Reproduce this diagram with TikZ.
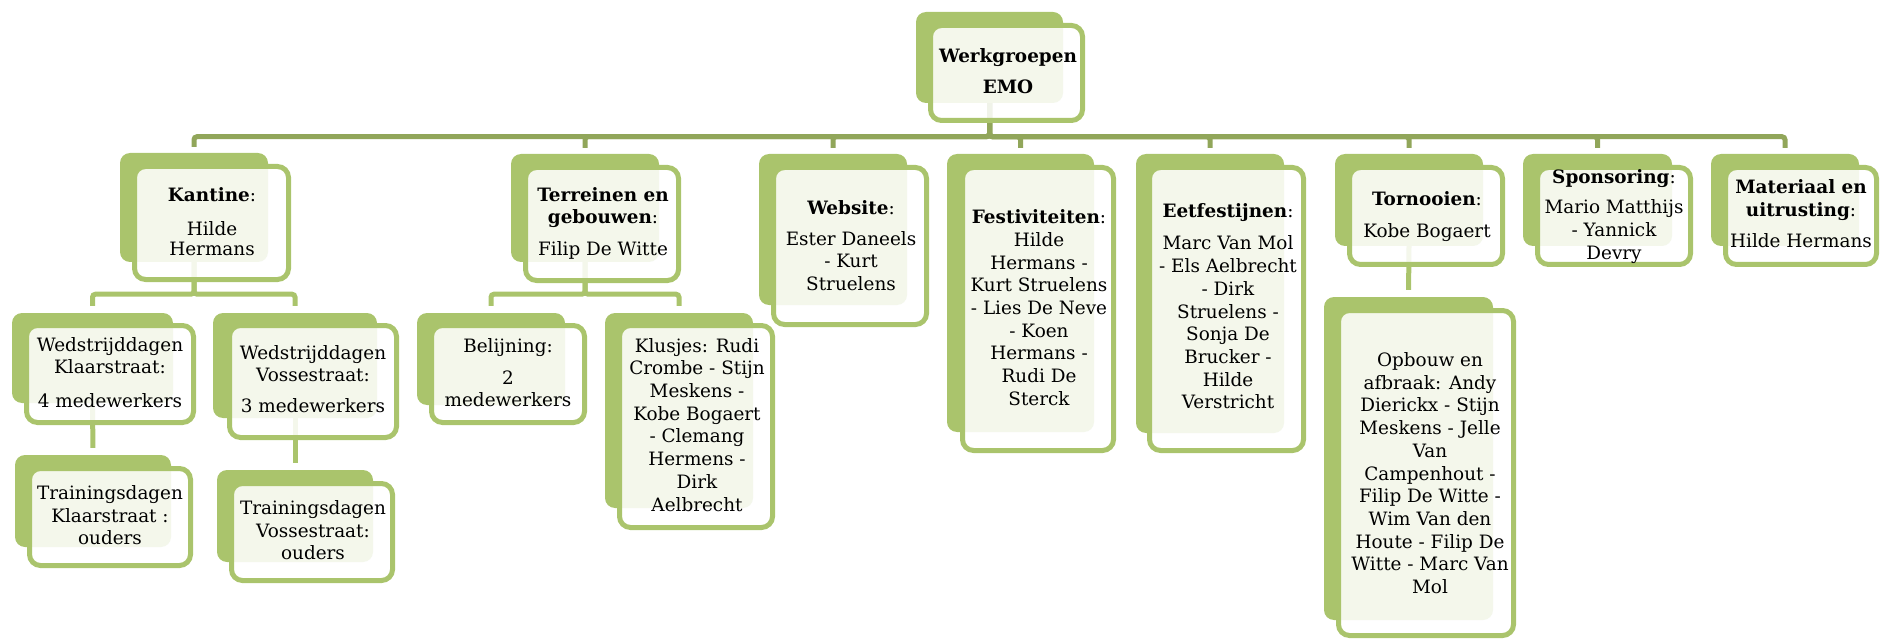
\documentclass[tikz,border=0pt]{standalone}
\usepackage{fontspec}
\setmainfont{DejaVu Serif}
\usetikzlibrary{fit,backgrounds}
\definecolor{grn}{RGB}{170,196,108}
\definecolor{olv}{RGB}{145,166,90}
\newcommand\sT{\rule[-6.8pt]{0pt}{22.7pt}}
\begin{document}
\begin{tikzpicture}[x=1pt,y=-1pt,
  backbox/.style={fill=grn,draw=none,rounded corners=10pt,inner sep=0pt},
  frontbox/.style={draw=grn,line width=5pt,fill=white,fill opacity=0.87,rounded corners=11pt,inner sep=0pt},
  txt/.style={align=center,inner sep=0pt,text=black,font=\fontsize{18.4pt}{22.7pt}\selectfont},
  tight/.style={font=\fontsize{18.4pt}{20.4pt}\selectfont},
  mid/.style={font=\fontsize{18.4pt}{22pt}\selectfont},
  connA/.style={draw=olv,line width=5pt,rounded corners=3pt,shorten >=6pt},
  connB/.style={draw=grn,line width=5pt,rounded corners=3pt,shorten >=7pt}]
\useasboundingbox (0,0) rectangle (1880,639);

% back shapes
\node[backbox,fit={(916,12) (1063,103)}] (rootB) {};
\node[backbox,fit={(120,153) (268,262)}] (kanB) {};
\node[backbox,fit={(12,313) (173,403)}] (wkB) {};
\node[backbox,fit={(15,455) (171,547)}] (tkB) {};
\node[backbox,fit={(213,313) (377,418)}] (wvB) {};
\node[backbox,fit={(217,470) (373,562)}] (tvB) {};
\node[backbox,fit={(511,154) (659,262)}] (terB) {};
\node[backbox,fit={(417,313) (565,405)}] (belB) {};
\node[backbox,fit={(605,313) (753,508)}] (kluB) {};
\node[backbox,fit={(759,154) (907,305)}] (webB) {};
\node[backbox,fit={(947,154) (1094,432)}] (fesB) {};
\node[backbox,fit={(1136,154) (1284,433)}] (eetB) {};
\node[backbox,fit={(1335,154) (1483,246)}] (torB) {};
\node[backbox,fit={(1324,297) (1493,620)}] (opbB) {};
\node[backbox,fit={(1523,154) (1672,246)}] (spoB) {};
\node[backbox,fit={(1711,154) (1859,246)}] (matB) {};

% front frames
\node[frontbox,fit={(930.5,25.5) (1082.5,120.5)}] (rootF) {};
\node[frontbox,fit={(134.5,166.5) (288.5,279.5)}] (kanF) {};
\node[frontbox,fit={(26.5,325.5) (193.5,422.5)}] (wkF) {};
\node[frontbox,fit={(29.5,468.5) (190.5,565.5)}] (tkF) {};
\node[frontbox,fit={(229.5,325.5) (396.5,437.5)}] (wvF) {};
\node[frontbox,fit={(231.5,483.5) (392.5,580.5)}] (tvF) {};
\node[frontbox,fit={(525.5,167.5) (678.5,280.5)}] (terF) {};
\node[frontbox,fit={(431.5,325.5) (584.5,422.5)}] (belF) {};
\node[frontbox,fit={(619.5,325.5) (772.5,527.5)}] (kluF) {};
\node[frontbox,fit={(773.5,167.5) (926.5,324.5)}] (webF) {};
\node[frontbox,fit={(962.5,167.5) (1113.5,450.5)}] (fesF) {};
\node[frontbox,fit={(1149.5,167.5) (1303.5,450.5)}] (eetF) {};
\node[frontbox,fit={(1349.5,167.5) (1502.5,264.5)}] (torF) {};
\node[frontbox,fit={(1338.5,310.5) (1513.5,635.5)}] (opbF) {};
\node[frontbox,fit={(1537.5,167.5) (1690.5,264.5)}] (spoF) {};
\node[frontbox,fit={(1725.5,167.5) (1876.5,264.5)}] (matF) {};

% texts
\node[txt] (rootT) at (1008,73.5) {\sT\textbf{Werkgroepen}\\[8.3pt]\textbf{EMO}\sT};
\node[txt,tight] (kanT) at (212,224) {\sT\textbf{Kantine}:\\[11.6pt]Hilde\\Hermans\sT};
\node[txt,tight] (wkT) at (110,375) {\sT Wedstrijddagen\\Klaarstraat:\\[13.6pt]4 medewerkers\sT};
\node[txt] (tkT) at (110,517.5) {\sT Trainingsdagen\\Klaarstraat :\\ouders\sT};
\node[txt,mid] (wvT) at (313,381.5) {\sT Wedstrijddagen\\Vossestraat:\\[9pt]3 medewerkers\sT};
\node[txt] (tvT) at (313,532.5) {\sT Trainingsdagen\\Vossestraat:\\ouders\sT};
\node[txt] (terT) at (603,224) {\sT\textbf{Terreinen en}\\\textbf{gebouwen}:\\[9.3pt]Filip De Witte\sT};
\node[txt] (belT) at (508,375) {\sT Belijning:\\[9.3pt]2\\medewerkers\sT};
\node[txt] (kluT) at (697,427) {\sT Klusjes: Rudi\\Crombe - Stijn\\Meskens -\\Kobe Bogaert\\- Clemang\\Hermens -\\Dirk\\Aelbrecht\sT};
\node[txt] (webT) at (851,248) {\sT\textbf{Website}:\\[8pt]Ester Daneels\\- Kurt\\Struelens\sT};
\node[txt] (fesT) at (1039,310) {\sT\textbf{Festiviteiten}:\\Hilde\\Hermans -\\Kurt Struelens\\- Lies De Neve\\- Koen\\Hermans -\\Rudi De\\Sterck\sT};
\node[txt] (eetT) at (1228,308.5) {\sT\textbf{Eetfestijnen}:\\[10pt]Marc Van Mol\\- Els Aelbrecht\\- Dirk\\Struelens -\\Sonja De\\Brucker -\\Hilde\\Verstricht\sT};
\node[txt] (torT) at (1427,217) {\sT\textbf{Tornooien}:\\[9.3pt]Kobe Bogaert\sT};
\node[txt] (opbT) at (1430,475.5) {\sT Opbouw en\\afbraak: Andy\\Dierickx - Stijn\\Meskens - Jelle\\Van\\Campenhout -\\Filip De Witte -\\Wim Van den\\Houte - Filip De\\Witte - Marc Van\\Mol\sT};
\node[txt] (spoT) at (1614,217) {\sT\textbf{Sponsoring}:\\[7.3pt]Mario Matthijs\\- Yannick\\Devry\sT};
\node[txt] (matT) at (1801,216) {\sT\textbf{Materiaal en}\\\textbf{uitrusting}:\\[8.3pt]Hilde Hermans\sT};

% connectors
\begin{pgfonlayer}{background}
\foreach \c in {kanB,terB,webB,fesB,eetB,torB,spoB,matB}
  \draw[connA] (rootB.south) -- ++(0,33.5) -| (\c.north);
\draw[connB] (kanB.south) -- ++(0,32) -| (wkB.north);
\draw[connB] (kanB.south) -- ++(0,32) -| (wvB.north);
\draw[connB] (terB.south) -- ++(0,32) -| (belB.north);
\draw[connB] (terB.south) -- ++(0,32) -| (kluB.north);
\draw[connB] (wkB.south) -- (tkB.north);
\draw[connB] (wvB.south) -- (tvB.north);
\draw[connB] (torB.south) -- (opbB.north);
\end{pgfonlayer}
\end{tikzpicture}
\end{document}
